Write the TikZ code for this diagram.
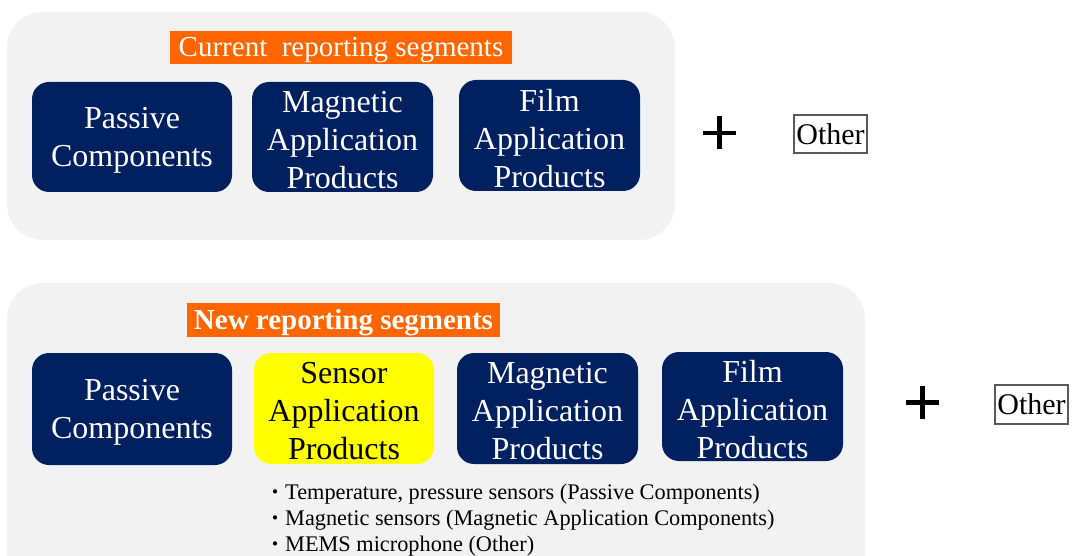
\documentclass[tikz,border=0pt]{standalone}
\usepackage{fontspec}
\setmainfont{Liberation Serif}
\newfontfamily\segserif{Liberation Serif}
\newfontfamily\cjk{Noto Sans CJK JP}
\definecolor{panelgrey}{HTML}{F2F2F2}
\definecolor{segnavy}{HTML}{002060}
\definecolor{segorange}{HTML}{FF6600}
\definecolor{segyellow}{HTML}{FFFF00}
\definecolor{framegrey}{HTML}{595959}
\newcommand\bulletdot{{\cjk\fontsize{20}{26}\selectfont ・}}
\begin{document}
\begin{tikzpicture}[x=1pt,y=-1pt,
  panel/.style={fill=panelgrey, draw=none, rounded corners=36pt},
  boxtext/.style={text=white, align=center, inner sep=0pt, yshift=-3pt,
    font=\segserif\fontsize{32}{38}\selectfont},
  segbox/.style={fill=segnavy, rounded corners=17pt, inner sep=0pt},
  newbox/.style={segbox, fill=segyellow},
  titletext/.style={text=white, inner sep=0pt, yshift=-2.5pt,
    font=\segserif\fontsize{29}{29}\selectfont},
  title/.style={fill=segorange, inner sep=0pt, minimum height=33pt},
  otherbox/.style={draw=framegrey, line width=1.2pt, fill=white, inner sep=1pt,
    minimum width=73pt, minimum height=38pt, font=\segserif\fontsize{30}{30}\selectfont},
  plussign/.style={inner sep=0pt, minimum size=33pt,
    path picture={\draw[line width=4.2pt]
      (path picture bounding box.west) -- (path picture bounding box.east)
      (path picture bounding box.north) -- (path picture bounding box.south);}}
]
\useasboundingbox (0,0) rectangle (1074,556);
\clip (0,0) rectangle (1074,556);
\fill[white] (0,0) rectangle (1074,556);

% current reporting segments
\fill[panel] (7,12) rectangle (675,240);
\node[title, minimum width=342pt, label={[titletext]center:{Current\ \ reporting segments}}] (curtitle) at (341,47.5) {};
\node[segbox, minimum width=200pt, minimum height=110pt, label={[boxtext]center:{Passive\\Components}}] (curpassive) at (132,137) {};
\node[segbox, minimum width=181pt, minimum height=110pt, label={[boxtext]center:{Magnetic\\Application\\Products}}] (curmagnetic) at (342.5,137) {};
\node[segbox, minimum width=181pt, minimum height=111pt, label={[boxtext]center:{Film\\Application\\Products}}] (curfilm) at (549.5,135.5) {};
\node[plussign] (curplus) at (719.5,133) {};
\node[otherbox] (curother) at (830.5,134) {Other};

% new reporting segments
\fill[panel] (7,283) rectangle (865,640);
\node[title, minimum width=313pt, minimum height=34pt, label={[titletext, font=\segserif\bfseries\fontsize{29}{29}\selectfont]center:{New reporting segments}}] (newtitle) at (343.5,320) {};
\node[segbox, minimum width=200pt, minimum height=112pt, label={[boxtext]center:{Passive\\Components}}] (newpassive) at (132,409) {};
\node[newbox, minimum width=180pt, minimum height=111pt, label={[boxtext, text=black]center:{Sensor\\Application\\Products}}] (newsensor) at (344,408.5) {};
\node[segbox, minimum width=181pt, minimum height=111pt, label={[boxtext]center:{Magnetic\\Application\\Products}}] (newmagnetic) at (547.5,408.5) {};
\node[segbox, minimum width=181pt, minimum height=109pt, label={[boxtext]center:{Film\\Application\\Products}}] (newfilm) at (752.5,406.5) {};
\node[plussign] (newplus) at (922.5,402.5) {};
\node[otherbox, minimum height=39pt] (newother) at (1031.5,404.5) {Other};

% sensor breakdown
\node[anchor=north west, inner sep=0pt, align=left, font=\segserif\fontsize{22.3}{26}\selectfont] (sensorlist) at (265,484)
  {\bulletdot Temperature, pressure sensors (Passive Components)\\
   \bulletdot Magnetic sensors (Magnetic Application Components)\\
   \bulletdot MEMS microphone (Other)};
\end{tikzpicture}
\end{document}
